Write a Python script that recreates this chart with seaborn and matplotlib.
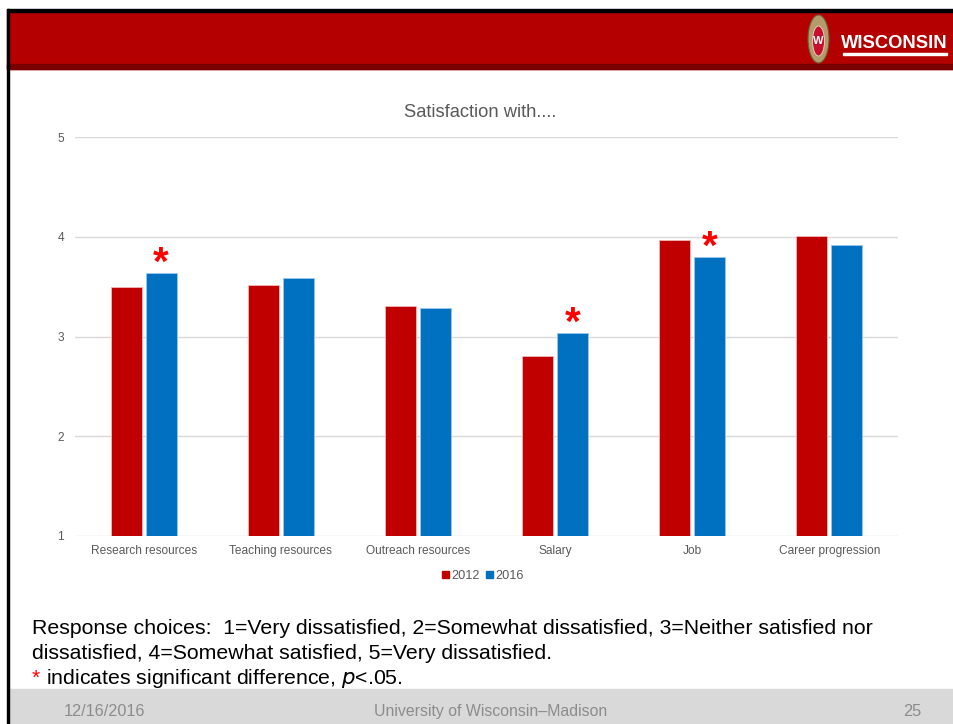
import matplotlib
matplotlib.use("Agg")
import matplotlib.pyplot as plt
from matplotlib.patches import Rectangle, Ellipse
import seaborn as sns
import pandas as pd

categories = ["Research resources", "Teaching resources", "Outreach resources",
              "Salary", "Job", "Career progression"]
values_2012 = [3.50, 3.52, 3.31, 2.80, 3.97, 4.01]
values_2016 = [3.64, 3.59, 3.29, 3.04, 3.80, 3.92]
years = ["2012", "2016"]
significant = ["Research resources", "Salary", "Job"]
y_ticks = [1, 2, 3, 4, 5]

df = pd.DataFrame({
    "category": categories * 2,
    "year": [years[0]] * len(categories) + [years[1]] * len(categories),
    "score": values_2012 + values_2016,
})

sns.set_theme(style="white")
plt.rcParams["font.family"] = ["Liberation Sans", "DejaVu Sans"]

RED = "#C00000"
BLUE = "#0070C0"
W, H = 954, 724
fig = plt.figure(figsize=(W / 100, H / 100), dpi=100)
fig.patch.set_facecolor("white")


def fx(px):
    return px / W


def fy(py):
    return 1 - py / H


# slide banner, frame and footer
fig.patches.append(Rectangle((fx(7), fy(69)), 1, fy(12) - fy(69), transform=fig.transFigure,
                             color="#B50000", zorder=0))
fig.patches.append(Rectangle((fx(7), fy(69)), 1, fy(64) - fy(69), transform=fig.transFigure,
                             color="#7A0000", zorder=1))
fig.patches.append(Rectangle((fx(7), fy(12)), 1, fy(9) - fy(12), transform=fig.transFigure,
                             color="black", zorder=2))
fig.patches.append(Rectangle((fx(7), 0), fx(2), fy(9), transform=fig.transFigure,
                             color="black", zorder=3))
fig.patches.append(Rectangle((fx(9), 0), 1, fy(689), transform=fig.transFigure,
                             color="#D9D9D9", zorder=0))

# crest and wordmark
fig.patches.append(Ellipse((fx(818.5), fy(39)), fx(21), fy(15) - fy(63),
                           transform=fig.transFigure, facecolor="#B39B6B",
                           edgecolor="#6E5A3A", lw=0.8, zorder=4))
fig.patches.append(Ellipse((fx(818.5), fy(41)), fx(12), fy(26) - fy(56),
                           transform=fig.transFigure, facecolor="#C8102E",
                           edgecolor="#E8D8C0", lw=0.6, zorder=5))
fig.text(fx(818.5), fy(41), "W", color="white", fontsize=8, fontweight="bold",
         ha="center", va="center", zorder=6)
fig.text(fx(894), fy(48), "WISCONSIN", color="white", fontsize=13.2, fontweight="bold",
         ha="center", va="baseline", zorder=6)
fig.patches.append(Rectangle((fx(843), fy(55)), fx(104), fy(53) - fy(55),
                             transform=fig.transFigure, color="white", zorder=6))

# chart
ax = fig.add_axes([fx(75), fy(536), fx(898) - fx(75), fy(137) - fy(536)])
sns.barplot(data=df, x="category", y="score", hue="year", order=categories,
            hue_order=years, palette=[RED, BLUE], saturation=1, width=0.51, gap=0.11,
            edgecolor="#F2B8B8", linewidth=0.6, ax=ax, legend=False, zorder=3)
for bar in ax.containers[1]:
    bar.set_edgecolor("#9CC8EC")

ax.set_ylim(1, 5)
ax.set_xlim(-0.5, len(categories) - 0.5)
ax.set_yticks(y_ticks)
ax.set_yticklabels([str(t) for t in y_ticks])
ax.grid(axis="y", color="#D9D9D9", linewidth=1, zorder=0)
ax.grid(axis="x", visible=False)
for s in ax.spines.values():
    s.set_visible(False)
ax.tick_params(axis="x", length=0, labelsize=8.6, colors="#595959", pad=13.2)
ax.tick_params(axis="y", length=0, labelsize=8.6, colors="#595959", pad=8)
ax.set_xlabel("")
ax.set_ylabel("")
ax.set_facecolor("none")
for lab in ax.get_xticklabels():
    lab.set_verticalalignment("baseline")

# significance markers above the 2016 bars
slot = 0.51 / 2
for cat in significant:
    i = categories.index(cat)
    ax.text(i + slot / 2, values_2016[i] + 0.09, "*", color="#FF0000", fontsize=29,
            ha="center", va="center", fontweight="bold", zorder=5)

fig.text(fx(480), fy(117), "Satisfaction with....", color="#595959", fontsize=13.2,
         ha="center", va="baseline")

# legend
handles = [Rectangle((0, 0), 1, 1, color=c) for c in [RED, BLUE]]
fig.legend(handles, years, loc="center", bbox_to_anchor=(fx(483), fy(576)), ncol=2,
           frameon=False, fontsize=9.2, handlelength=0.55, handleheight=0.55,
           handletextpad=0.15, columnspacing=0.5, labelcolor="#595959")

# notes
fig.text(fx(32), fy(634), "Response choices:  1=Very dissatisfied, 2=Somewhat dissatisfied, "
         "3=Neither satisfied nor", fontsize=15.3, color="black", va="baseline")
fig.text(fx(32), fy(659), "dissatisfied, 4=Somewhat satisfied, 5=Very dissatisfied.",
         fontsize=15.3, color="black", va="baseline")
fig.text(fx(32), fy(684), "*", fontsize=15.3, color="#FF0000", va="baseline")
fig.text(fx(46), fy(684), "indicates significant difference, $\\it{p}$<.05.",
         fontsize=15.3, color="black", va="baseline")

# footer
fig.text(fx(105), fy(716), "12/16/2016", fontsize=11.7, color="#8C8C8C", ha="center",
         va="baseline")
fig.text(fx(491), fy(716), "University of Wisconsin\u2013Madison", fontsize=11.4,
         color="#8C8C8C", ha="center", va="baseline")
fig.text(fx(912), fy(716), "25", fontsize=11.7, color="#8C8C8C", ha="center", va="baseline")

fig.savefig("out.png", dpi=100, facecolor="white")
